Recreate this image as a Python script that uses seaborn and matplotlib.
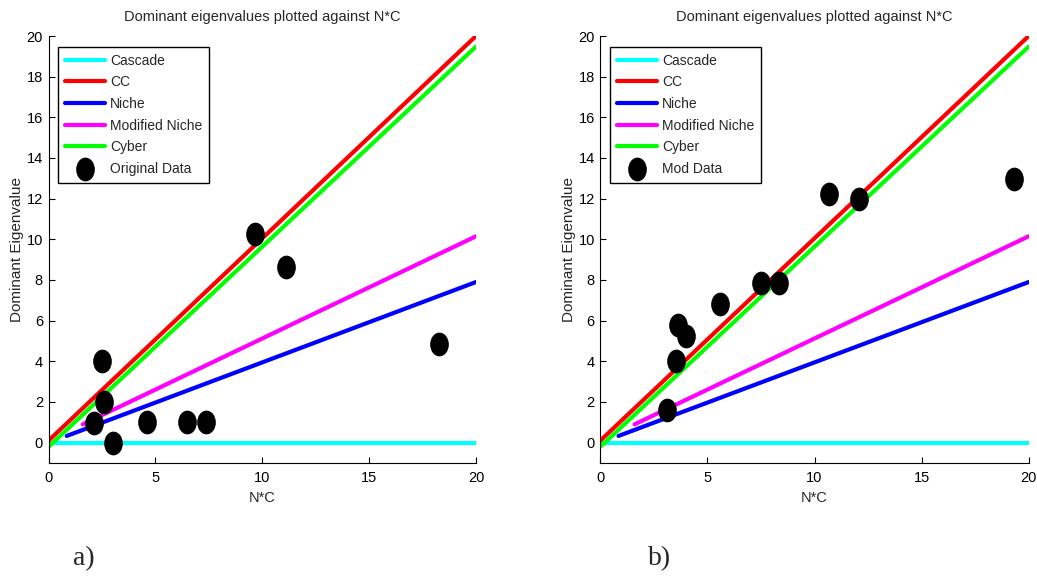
import numpy as np
import pandas as pd
import seaborn as sns
import matplotlib.pyplot as plt
from matplotlib.path import Path
from matplotlib.transforms import Affine2D

sns.set_style("white")
plt.rcParams["font.family"] = ["Liberation Sans", "DejaVu Sans"]

# model lines (same on both panels)
cascade_x = [0, 20]
cascade_y = [0, 0]
cc_x = [0, 20]
cc_y = [0.1, 20.0]
niche_x = [0.85, 20]
niche_y = [0.33, 7.9]
modniche_x = [1.6, 20]
modniche_y = [0.9, 10.15]
cyber_x = [0, 20]
cyber_y = [-0.2, 19.48]

# observed food webs
orig_x = [2.14, 2.6, 3.0, 4.59, 6.49, 7.35, 2.51, 9.65, 11.1, 18.26]
orig_y = [0.98, 1.99, 0.0, 1.0, 1.0, 1.0, 4.0, 10.27, 8.64, 4.86]
mod_x = [3.13, 3.52, 3.63, 4.0, 5.59, 7.49, 8.36, 10.69, 12.09, 19.3]
mod_y = [1.61, 4.0, 5.8, 5.27, 6.83, 7.83, 7.83, 12.25, 12.0, 12.99]

lines = [
    ("Cascade", cascade_x, cascade_y, "#00ffff"),
    ("CC", cc_x, cc_y, "#ff0000"),
    ("Niche", niche_x, niche_y, "#0000ff"),
    ("Modified Niche", modniche_x, modniche_y, "#ff00ff"),
    ("Cyber", cyber_x, cyber_y, "#00ff00"),
]

# MATLAB dots got stretched in the figure, so use an ellipse
ellipse = Affine2D().scale(1.0, 1.3).transform_path(Path.unit_circle())

fig = plt.figure(figsize=(10.37, 5.77), dpi=100)
ax_a = fig.add_axes([0.0468, 0.1976, 0.4122, 0.74])
ax_b = fig.add_axes([0.5789, 0.1976, 0.4131, 0.74])

panels = [(ax_a, orig_x, orig_y, "Original Data", "a)", 0.070),
          (ax_b, mod_x, mod_y, "Mod Data", "b)", 0.625)]

for ax, px, py, plabel, tag, tx in panels:
    for name, lx, ly, col in lines:
        sns.lineplot(x=lx, y=ly, color=col, lw=3, label=name, ax=ax,
                     sort=False, estimator=None)
    sns.scatterplot(x=px, y=py, marker=ellipse, s=250, color="black",
                    edgecolor="black", label=plabel, ax=ax, zorder=5)

    ax.set_xlim(0, 20)
    ax.set_ylim(-1, 20)
    ax.set_xticks([0, 5, 10, 15, 20])
    ax.set_yticks(range(0, 21, 2))
    ax.tick_params(direction="in", length=4, width=0.8, labelsize=10.5,
                   colors="black", pad=6, left=True, bottom=True)
    ax.tick_params(axis="y", pad=4)
    for side in ["top", "right"]:
        ax.spines[side].set_visible(False)
    for side in ["left", "bottom"]:
        ax.spines[side].set_color("black")
        ax.spines[side].set_linewidth(0.8)
    ax.set_title("Dominant eigenvalues plotted against N*C", fontsize=10.5, pad=11)
    ax.set_xlabel("N*C", fontsize=10.5, labelpad=4)
    ax.set_ylabel("Dominant Eigenvalue", fontsize=11, labelpad=2)

    leg = ax.legend(loc="upper left", bbox_to_anchor=(0.022, 0.975),
                    borderaxespad=0, fancybox=False, framealpha=1,
                    edgecolor="black", fontsize=10, handlelength=2.9,
                    handletextpad=0.35, labelspacing=0.55, borderpad=0.5)
    leg.get_frame().set_linewidth(1.0)

    fig.text(tx, 0.02, tag, fontsize=20, family="Liberation Serif")

fig.savefig("out.png", dpi=100)
